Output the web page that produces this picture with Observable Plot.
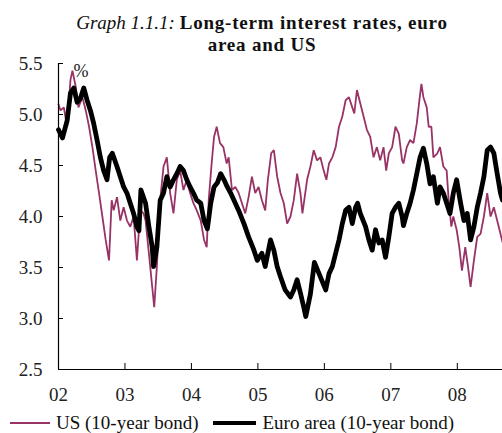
<!DOCTYPE html>
<html><head><meta charset="utf-8">
<script src="https://cdn.jsdelivr.net/npm/d3@7"></script>
<script src="https://cdn.jsdelivr.net/npm/@observablehq/plot@0.6"></script>
<style>
body{margin:0;background:#fff;font-family:"Liberation Serif","Times New Roman",serif;}
#wrap{position:relative;width:502px;height:433px;overflow:hidden;}
#title{position:absolute;top:12px;left:22px;width:480px;text-align:center;font-size:19px;line-height:22px;color:#111;}
#title i{font-weight:normal;}
#title b{letter-spacing:0.8px;}
#legend{position:absolute;top:412px;left:10px;display:flex;align-items:center;font-size:19px;color:#111;white-space:nowrap;font-family:"Liberation Serif",serif;}
.sw{display:inline-block;width:40px;margin-right:6px;}
#chart{position:absolute;top:0;left:0;}
#chart svg, #chart svg text{font-family:"Liberation Serif","Times New Roman",serif !important;}
</style></head>
<body><div id="wrap">
<div id="chart"></div>
<div id="title"><i>Graph 1.1.1:</i> <b>Long-term interest rates, euro<br>area and US</b></div>
<div id="legend">
<span class="sw" style="border-top:2px solid #993366"></span><span>US (10-year bond)</span>
<span class="sw" style="border-top:4px solid #000;margin-left:15px;width:43px"></span><span>Euro area (10-year bond)</span>
</div>
</div>
<script>
const yTicks = [2.5, 3.0, 3.5, 4.0, 4.5, 5.0, 5.5];
const xTicks = [2002, 2003, 2004, 2005, 2006, 2007, 2008];
const xTickLabels = ["02", "03", "04", "05", "06", "07", "08"];

const euDates = [2002.00,2002.06,2002.13,2002.18,2002.23,2002.28,2002.33,2002.38,2002.43,2002.48,2002.53,2002.58,2002.63,2002.68,2002.73,2002.77,2002.81,2002.88,2002.93,2002.98,2003.03,2003.08,2003.13,2003.18,2003.21,2003.24,2003.31,2003.36,2003.41,2003.43,2003.48,2003.53,2003.58,2003.63,2003.68,2003.73,2003.78,2003.83,2003.88,2003.93,2003.98,2004.03,2004.08,2004.14,2004.19,2004.24,2004.29,2004.34,2004.39,2004.44,2004.49,2004.54,2004.59,2004.64,2004.71,2004.79,2004.86,2004.94,2004.99,2005.06,2005.11,2005.19,2005.24,2005.29,2005.34,2005.41,2005.49,2005.54,2005.59,2005.64,2005.69,2005.72,2005.79,2005.85,2005.92,2006.02,2006.07,2006.12,2006.17,2006.22,2006.27,2006.32,2006.37,2006.42,2006.47,2006.50,2006.54,2006.62,2006.67,2006.72,2006.77,2006.82,2006.87,2006.92,2006.97,2007.02,2007.07,2007.12,2007.17,2007.19,2007.24,2007.29,2007.34,2007.39,2007.44,2007.49,2007.54,2007.59,2007.64,2007.70,2007.74,2007.79,2007.84,2007.89,2007.94,2007.99,2008.05,2008.10,2008.15,2008.20,2008.25,2008.30,2008.35,2008.40,2008.45,2008.50,2008.55,2008.60,2008.65,2008.68];
const euValues = [4.85,4.77,4.94,5.21,5.26,5.12,5.16,5.26,5.14,5.04,4.91,4.75,4.58,4.45,4.36,4.58,4.62,4.49,4.39,4.29,4.23,4.13,4.03,3.90,3.86,4.26,4.13,3.90,3.70,3.51,3.70,4.16,4.23,4.39,4.29,4.36,4.42,4.49,4.45,4.36,4.29,4.23,4.16,4.13,3.96,3.88,4.13,4.29,4.33,4.42,4.36,4.29,4.23,4.16,4.06,3.93,3.80,3.67,3.57,3.64,3.51,3.77,3.67,3.51,3.41,3.28,3.21,3.28,3.38,3.25,3.11,3.02,3.24,3.55,3.44,3.28,3.44,3.51,3.64,3.77,3.93,4.06,4.09,3.93,4.09,4.13,4.03,3.90,3.77,3.67,3.87,3.74,3.77,3.60,3.80,4.03,4.09,4.13,4.00,3.91,4.03,4.13,4.26,4.42,4.58,4.67,4.52,4.32,4.39,4.13,4.29,4.23,4.13,4.03,4.23,4.36,4.13,3.96,4.03,3.77,3.90,4.09,4.23,4.39,4.65,4.68,4.62,4.42,4.23,4.16];

const usDates = [2002.00,2002.03,2002.08,2002.13,2002.18,2002.21,2002.26,2002.30,2002.36,2002.41,2002.46,2002.51,2002.56,2002.61,2002.66,2002.71,2002.76,2002.80,2002.83,2002.88,2002.93,2002.98,2003.03,2003.08,2003.13,2003.18,2003.23,2003.28,2003.31,2003.36,2003.41,2003.44,2003.48,2003.53,2003.58,2003.63,2003.68,2003.73,2003.78,2003.83,2003.88,2003.93,2003.98,2004.03,2004.08,2004.14,2004.19,2004.23,2004.26,2004.30,2004.34,2004.38,2004.43,2004.48,2004.53,2004.56,2004.61,2004.66,2004.71,2004.76,2004.81,2004.86,2004.91,2004.96,2005.01,2005.06,2005.11,2005.15,2005.20,2005.24,2005.29,2005.34,2005.39,2005.44,2005.49,2005.54,2005.59,2005.64,2005.67,2005.74,2005.79,2005.84,2005.89,2005.94,2005.99,2006.03,2006.07,2006.12,2006.17,2006.22,2006.27,2006.32,2006.37,2006.42,2006.45,2006.49,2006.54,2006.59,2006.64,2006.69,2006.74,2006.79,2006.84,2006.89,2006.93,2006.97,2007.02,2007.07,2007.12,2007.17,2007.19,2007.24,2007.29,2007.34,2007.39,2007.43,2007.46,2007.49,2007.54,2007.57,2007.61,2007.64,2007.70,2007.74,2007.79,2007.84,2007.87,2007.91,2007.94,2007.99,2008.03,2008.07,2008.12,2008.16,2008.20,2008.25,2008.30,2008.35,2008.40,2008.45,2008.50,2008.55,2008.60,2008.65,2008.68];
const usValues = [5.10,5.04,5.07,4.88,5.34,5.43,5.27,5.07,5.17,5.04,4.88,4.68,4.45,4.23,4.00,3.77,3.57,4.16,4.06,4.19,3.96,4.09,3.96,3.90,4.00,3.57,4.06,4.03,3.96,3.64,3.31,3.11,3.51,4.16,4.49,4.58,4.23,4.03,4.36,4.45,4.26,4.36,4.23,4.13,4.06,3.96,3.77,3.70,4.16,4.49,4.78,4.88,4.72,4.68,4.52,4.58,4.26,4.29,4.23,4.13,4.03,4.19,4.39,4.23,4.29,4.16,4.06,4.36,4.62,4.65,4.39,4.23,4.13,3.93,4.00,4.16,4.42,4.23,4.03,4.36,4.49,4.65,4.55,4.58,4.45,4.36,4.52,4.58,4.68,4.88,4.98,5.14,5.17,5.07,5.01,5.24,5.11,4.98,4.85,4.78,4.58,4.68,4.55,4.68,4.45,4.62,4.68,4.88,4.81,4.55,4.52,4.68,4.75,4.72,4.91,5.14,5.30,5.17,5.07,4.88,4.88,4.58,4.62,4.68,4.49,4.45,4.16,3.90,4.00,3.87,3.70,3.47,3.70,3.51,3.31,3.57,3.80,3.83,4.00,4.23,4.00,4.09,3.96,3.83,3.75];

const eu = euDates.map((d, i) => ({date: d, value: euValues[i]}));
const us = usDates.map((d, i) => ({date: d, value: usValues[i]}));

const chart = Plot.plot({
  width: 502,
  height: 410,
  marginTop: 63,
  marginBottom: 41,
  marginLeft: 58,
  marginRight: 0,
  style: "font-family: 'Liberation Serif','Times New Roman',serif; font-size: 19px; color: #222; background: transparent;",
  x: {domain: [2002, 2008.68]},
  y: {domain: [2.5, 5.5]},
  marks: [
    Plot.axisY({ticks: yTicks, tickSize: -5, tickPadding: 21, tickFormat: d => d.toFixed(1), label: null, stroke: "#000", fill: "#222", fontSize: 19}),
    Plot.axisX({ticks: xTicks, tickSize: -6, tickPadding: 24, tickFormat: d => xTickLabels[xTicks.indexOf(d)], label: null, stroke: "#000", fill: "#222", fontSize: 19}),
    Plot.line(us, {x: "date", y: "value", stroke: "#993366", strokeWidth: 1.8, strokeLinejoin: "miter"}),
    Plot.line(eu, {x: "date", y: "value", stroke: "#000", strokeWidth: 4.8, strokeLinejoin: "round"}),
    Plot.ruleX([2002], {stroke: "#000", strokeWidth: 1.2}),
    Plot.ruleY([2.5], {stroke: "#000", strokeWidth: 1.2}),
    Plot.text(["%"], {frameAnchor: "top-left", dx: 15, dy: 1, text: d => d, fontSize: 18, fill: "#222", textAnchor: "start", lineAnchor: "top"})
  ]
});
document.getElementById("chart").appendChild(chart);
</script>
</body></html>
